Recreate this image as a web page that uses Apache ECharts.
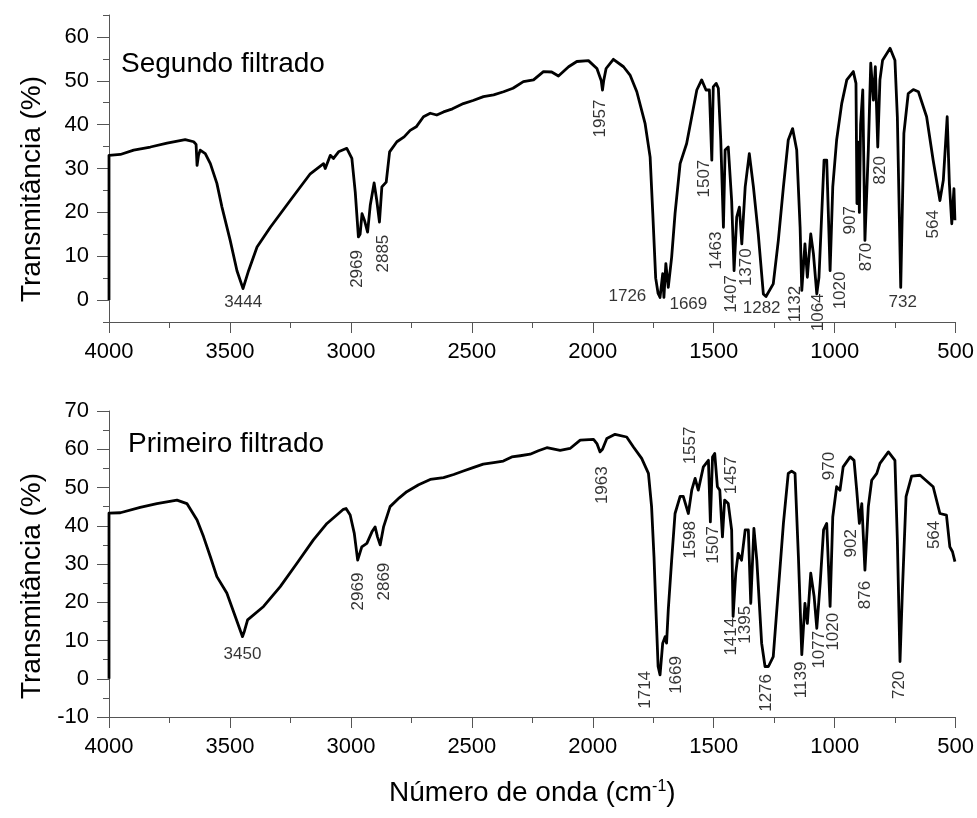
<!DOCTYPE html>
<html>
<head>
<meta charset="utf-8">
<script src="https://cdn.jsdelivr.net/npm/echarts@6/dist/echarts.min.js"></script>
<style>html,body{margin:0;padding:0;background:#fff}#c{width:977px;height:818px}</style>
</head>
<body>
<div id="c"></div>
<script>
// ---------- data ----------
const xTickValues = [500, 1000, 1500, 2000, 2500, 3000, 3500, 4000];
const topYTicks = [0, 10, 20, 30, 40, 50, 60];
const bottomYTicks = [-10, 0, 10, 20, 30, 40, 50, 60, 70];

// Segundo filtrado : [wavenumber, transmittance]
const segundoSpectrum = [
  [4000,0],[4000,33],[3953,33.2],[3898,34.2],[3829,34.9],[3760,35.8],[3685,36.6],[3650,36.1],[3640,35.5],[3636,30.7],[3630,33],
  [3623,34.2],[3602,33.4],[3581,31.1],[3554,26.6],[3533,21.2],[3499,13.6],[3471,6.7],[3446,2.6],[3423,6.7],[3388,12.1],
  [3333,16.6],[3251,22.7],[3168,28.8],[3113,31.1],[3106,30],[3085,33],[3072,32.3],[3051,33.8],[3017,34.6],[2996,32.3],
  [2982,24.6],[2969,14.4],[2962,15],[2954,19.7],[2944,18.2],[2931,15.5],[2920,21.6],[2904,26.7],[2893,22.7],[2882,17.8],
  [2872,25.8],[2854,26.9],[2840,33.8],[2810,36.1],[2780,37.2],[2755,38.7],[2730,39.5],[2700,41.8],[2672,42.6],[2645,42.2],
  [2617,42.9],[2580,43.6],[2535,44.8],[2495,45.5],[2452,46.4],[2410,46.8],[2369,47.5],[2330,48.3],[2287,49.8],[2245,50.2],
  [2204,52.1],[2170,52],[2142,51.1],[2100,53.2],[2066,54.4],[2018,54.6],[1983,52.8],[1965,50],[1960,47.9],[1955,50],
  [1945,52.8],[1915,54.9],[1873,53.2],[1846,51.3],[1818,47.5],[1784,40.3],[1763,32.6],[1752,19.7],[1740,5],[1730,1.5],
  [1722,0.6],[1711,6],[1706,0.6],[1698,8.3],[1688,2.9],[1674,9.8],[1660,19.7],[1639,31.1],[1612,35.7],[1591,41.8],
  [1570,47.9],[1550,50.2],[1532,47.9],[1518,47.9],[1508,31.9],[1502,48.6],[1490,49.4],[1481,48.3],[1471,36.5],[1460,16.6],
  [1453,34.2],[1440,34.9],[1426,22.7],[1416,6.7],[1405,18.9],[1394,21.2],[1384,12.8],[1370,25.8],[1353,33.4],[1336,25.8],
  [1316,15.1],[1295,1.4],[1284,0.8],[1254,3.7],[1233,13.6],[1212,25.8],[1192,36.5],[1174,39.1],[1157,34.2],[1143,16.6],
  [1136,2.2],[1123,12.8],[1113,5.2],[1099,15.1],[1088,10.6],[1074,1.4],[1065,5.2],[1056,16.6],[1044,31.9],[1033,31.9],
  [1019,6.7],[1008,25.8],[992,36.5],[971,44.8],[950,50.2],[923,52.1],[912,49.4],[908,22],[903,36],[898,20],[893,40],
  [884,47.9],[875,13.6],[861,34.2],[851,54],[840,45.6],[832,53.2],[822,34.9],[813,50.2],[802,54.7],[771,57.4],[751,54.7],
  [741,41.8],[727,2.9],[714,38],[696,47.1],[675,48],[654,47.5],[620,41.8],[593,31.9],[565,22.7],[551,27.3],[535,41.8],
  [526,26.6],[516,17.4],[507,25.4],[503,18.2]
];

// Primeiro filtrado : [wavenumber, transmittance]
const primeiroSpectrum = [
  [4000,0],[4000,43.3],[3953,43.4],[3871,44.8],[3802,45.8],[3719,46.7],[3678,45.8],[3636,41.5],[3609,37.1],[3581,31.9],
  [3554,26.7],[3513,22.4],[3478,16.3],[3448,11],[3440,12.5],[3427,15.4],[3361,18.9],[3292,24.1],[3223,30.2],[3155,36.3],
  [3099,40.6],[3044,43.6],[3031,44.3],[3020,44.5],[3003,42.8],[2986,38],[2972,31],[2967,31.5],[2955,34.5],[2934,35.4],
  [2913,38.4],[2900,39.7],[2890,37.1],[2879,35],[2865,39.7],[2838,45],[2800,47.3],[2769,48.9],[2720,50.7],[2672,52.1],
  [2617,52.6],[2575,53.4],[2535,54.3],[2495,55.2],[2453,56.1],[2410,56.5],[2370,56.9],[2335,58],[2300,58.3],[2259,58.7],
  [2225,59.6],[2190,60.4],[2135,59.7],[2094,60.2],[2052,62.4],[1997,62.6],[1983,61.5],[1970,59.3],[1960,60],[1942,62.8],
  [1908,63.9],[1860,63.2],[1832,60.6],[1798,57.6],[1770,53.7],[1757,45],[1747,31.9],
  [1739,18],[1730,3.2],[1722,1],[1711,9.3],[1701,11],[1695,9.3],[1688,18],[1674,31],[1660,43.2],[1639,47.7],[1626,47.7],
  [1605,43.2],[1591,49.3],[1577,52.4],[1564,49.3],[1543,55.4],[1522,57.1],[1514,41],[1505,58],[1496,58.9],[1485,50.2],
  [1475,49.3],[1464,37.1],[1455,46.7],[1440,45.8],[1426,38.9],[1420,16.3],[1409,27.6],[1399,32.8],[1385,31],[1370,38.9],
  [1357,38.9],[1347,19.7],[1334,39.3],[1322,31],[1302,9.3],[1288,3.2],[1274,3.2],[1254,5.8],[1233,23.2],[1212,40.6],
  [1192,53.7],[1178,54.3],[1164,53.7],[1150,31.9],[1136,6.3],[1123,19.7],[1113,14.5],[1099,27.6],[1085,21.5],[1074,13.2],
  [1060,25],[1046,38.9],[1033,40.6],[1019,18.9],[1008,42.3],[992,50.2],[978,49.3],[965,55.4],[936,58],[920,57.1],
  [909,49.3],[898,40.6],[888,45.8],[875,28.4],[861,45],[847,51.9],[826,53.7],[813,56.3],[778,59.3],[751,57.1],[741,36.3],
  [730,4.5],[720,23.2],[705,47.6],[682,53],[647,53.2],[593,50.2],[565,43.2],[538,42.8],[524,34.5],[513,33.2],[503,30.6]
];

// peak annotations: [label-anchor wavenumber, label-anchor transmittance, text]
const segundoPeakLabels = [
  [3445,-0.5,'3444'],[2973,7.1,'2969'],[2865,10.6,'2885'],[1967,41.4,'1957'],[1857,0.8,'1726'],[1605,-1,'1669'],
  [1539,27.7,'1507'],[1488,11.3,'1463'],[1428,1.4,'1407'],[1364,7.5,'1370'],[1302,-1.8,'1282'],[1161,-0.9,'1132'],
  [1068,-2.8,'1064'],[978,2.2,'1020'],[937,18.2,'907'],[868,9.8,'870'],[813,29.6,'820'],[719,-0.5,'732'],[593,17.3,'564']
];
const segundoHorizontal = ['3444','1726','1669','1282','732'];

const primeiroPeakLabels = [
  [3448,6.3,'3450'],[2969,22.8,'2969'],[2862,25.4,'2869'],[1959,50.6,'1963'],[1784,-2.9,'1714'],[1653,1,'1669'],
  [1598,36.3,'1598'],[1595,61,'1557'],[1502,35,'1507'],[1426,53.2,'1457'],[1428,11,'1414'],[1368,14.1,'1395'],
  [1281,-3.7,'1276'],[1136,-0.3,'1139'],[1065,7.6,'1077'],[1006,12.3,'1020'],[1022,55.6,'970'],[930,35.4,'902'],
  [875,21.9,'876'],[733,-1.6,'720'],[590,37.6,'564']
];
const primeiroHorizontal = ['3450'];

const panelTitles = ['Segundo filtrado', 'Primeiro filtrado'];
const yTitle = 'Transmitância (%)';

// ---------- chart ----------
const FONT = '"Liberation Sans", Arial, sans-serif';
const AX = '#555';
const chart = echarts.init(document.getElementById('c'), null, {renderer: 'canvas'});

function xAxisDef(gridIndex, withName) {
  const a = {
    type: 'value', gridIndex: gridIndex, min: 500, max: 4000, interval: 500, inverse: true,
    axisLine: {show: true, onZero: false, lineStyle: {color: AX, width: 1}},
    axisTick: {show: true, length: 11, lineStyle: {color: AX, width: 1}},
    minorTick: {show: true, splitNumber: 2, length: 6, lineStyle: {color: AX, width: 1}},
    axisLabel: {fontSize: 22, color: '#000', margin: 19, fontFamily: FONT, showMinLabel: true, showMaxLabel: true,
      customValues: xTickValues, formatter: v => String(v)},
    splitLine: {show: false}, minorSplitLine: {show: false}
  };
  if (withName) {
    a.name = 'Número de onda (cm{sup|-1})';
    a.nameLocation = 'middle';
    a.nameGap = 62;
    a.nameTextStyle = {fontSize: 28, color: '#000', fontFamily: FONT,
      rich: {sup: {fontSize: 16, color: '#000', fontFamily: FONT, verticalAlign: 'top', padding: [0, 0, 12, 0]}}};
  }
  return a;
}

function labelSeries(list, horiz, xi, yi) {
  return {
    type: 'scatter', xAxisIndex: xi, yAxisIndex: yi, symbolSize: 1, silent: true, z: 5,
    itemStyle: {color: 'rgba(0,0,0,0)'},
    data: list.map(d => ({value: [d[0], d[1]], name: d[2],
      label: {rotate: horiz.indexOf(d[2]) >= 0 ? 0 : 90}})),
    label: {show: true, position: 'inside', formatter: p => p.name, fontSize: 17, color: '#000',
      fontFamily: FONT, align: 'center', verticalAlign: 'middle'}
  };
}

const option = {
  animation: false,
  backgroundColor: '#fff',
  textStyle: {fontFamily: FONT},
  grid: [
    {left: 109, right: 21, top: 15, height: 307, containLabel: false},
    {left: 109, right: 21, top: 411, height: 306, containLabel: false}
  ],
  xAxis: [xAxisDef(0, false), xAxisDef(1, true)],
  yAxis: [
    {type: 'value', gridIndex: 0, min: -5, max: 65, interval: 5, position: 'left',
      axisLine: {show: true, onZero: false, lineStyle: {color: AX, width: 1}},
      axisTick: {show: true, length: 12, customValues: topYTicks, lineStyle: {color: AX, width: 1}},
      axisLabel: {show: true, customValues: topYTicks, fontSize: 22, color: '#000', margin: 20, fontFamily: FONT},
      splitLine: {show: false}},
    {type: 'value', gridIndex: 0, min: -5, max: 65, interval: 5, position: 'left', offset: 0,
      axisLine: {show: false},
      axisTick: {show: true, length: 6, customValues: [-5, 5, 15, 25, 35, 45, 55, 65], lineStyle: {color: AX, width: 1}},
      axisLabel: {show: false}, splitLine: {show: false}},
    {type: 'value', gridIndex: 1, min: -10, max: 70, interval: 10, position: 'left',
      axisLine: {show: true, onZero: false, lineStyle: {color: AX, width: 1}},
      axisTick: {show: true, length: 12, lineStyle: {color: AX, width: 1}},
      minorTick: {show: true, splitNumber: 2, length: 6, lineStyle: {color: AX, width: 1}},
      axisLabel: {show: true, customValues: bottomYTicks, fontSize: 22, color: '#000', margin: 20, fontFamily: FONT},
      splitLine: {show: false}, minorSplitLine: {show: false}}
  ],
  graphic: [
    {type: 'text', x: 121, y: 64, style: {text: panelTitles[0], font: '28px ' + FONT, fill: '#000', textAlign: 'left', textVerticalAlign: 'middle'}},
    {type: 'text', x: 128, y: 444, style: {text: panelTitles[1], font: '28px ' + FONT, fill: '#000', textAlign: 'left', textVerticalAlign: 'middle'}},
    {type: 'text', x: 32, y: 189, rotation: Math.PI / 2, style: {text: yTitle, font: '28px ' + FONT, fill: '#000', textAlign: 'center', textVerticalAlign: 'middle'}},
    {type: 'text', x: 32, y: 586, rotation: Math.PI / 2, style: {text: yTitle, font: '28px ' + FONT, fill: '#000', textAlign: 'center', textVerticalAlign: 'middle'}}
  ],
  series: [
    {type: 'line', xAxisIndex: 0, yAxisIndex: 0, data: segundoSpectrum, symbol: 'none', showSymbol: false,
      lineStyle: {color: '#000', width: 2.8, join: 'round'}, z: 3},
    {type: 'line', xAxisIndex: 1, yAxisIndex: 2, data: primeiroSpectrum, symbol: 'none', showSymbol: false,
      lineStyle: {color: '#000', width: 2.8, join: 'round'}, z: 3},
    labelSeries(segundoPeakLabels, segundoHorizontal, 0, 0),
    labelSeries(primeiroPeakLabels, primeiroHorizontal, 1, 2)
  ]
};
chart.setOption(option);
</script>
</body>
</html>
